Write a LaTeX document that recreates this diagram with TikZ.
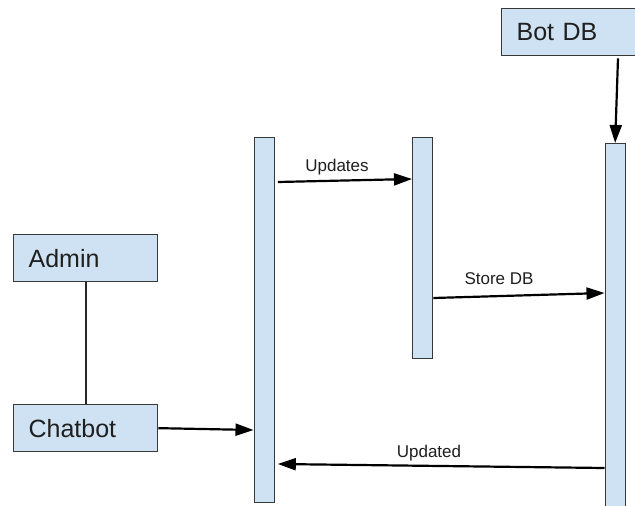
\documentclass[tikz,border=0pt]{standalone}
\usepackage{fontspec}
\setmainfont{Liberation Sans}
\usetikzlibrary{arrows.meta,calc}
\definecolor{boxfill}{HTML}{CFE2F3}
\definecolor{boxline}{HTML}{383838}
\definecolor{ink}{HTML}{1F1F1F}
\begin{document}
\begin{tikzpicture}[x=1pt,y=-1pt,
  actor/.style={draw=boxline,fill=boxfill,line width=1.3pt,anchor=north west,
    minimum height=47pt,inner xsep=15pt,inner ysep=0pt,align=left,
    font=\fontsize{25}{28}\selectfont,text=ink},
  bar/.style={draw=boxline,fill=boxfill,line width=1.3pt,anchor=north west,
    minimum width=20pt,inner sep=0pt},
  msg/.style={line width=2.2pt,-{Triangle[length=18pt,width=12pt]}},
  lbl/.style={font=\fontsize{17}{20}\selectfont,text=ink,inner sep=0pt}]
\useasboundingbox (0,0) rectangle (635,506);
\fill[white] (0,0) rectangle (635,506);

% actors
\node[actor,text width=114pt] (admin) at (13,234) {Admin};
\node[actor,text width=114pt] (chatbot) at (13,404) {Chatbot};
\node[actor,text width=120pt] (botdb) at (501,8) {Bot DB};

% activation bars
\node[bar,minimum height=365pt] (lbar) at (253.5,137) {};
\node[bar,minimum height=221pt] (mbar) at (412,137) {};
\node[bar,minimum height=380pt] (rbar) at (604.5,143) {};

% links and messages
\draw[black!85,line width=2.2pt] (admin.south) -- (chatbot.north);
\draw[msg] (chatbot.east) -- ($(lbar.north west)+(0,293)$);
\draw[msg] ($(botdb.south west)+(117,2)$) -- (rbar.north);
\draw[msg] ($(lbar.north east)+(3,45)$) -- ($(mbar.north west)+(0,42)$);
\draw[msg] ($(mbar.north east)+(0,161)$) -- ($(rbar.north west)+(0,150)$);
\draw[msg] ($(rbar.north west)+(0,325)$) -- ($(lbar.north east)+(3,327)$);

% message labels
\node[lbl] (lupd) at (337,167) {Updates};
\node[lbl] (lstore) at (499,279) {Store DB};
\node[lbl] (lupdd) at (429,453) {Updated};
\end{tikzpicture}
\end{document}
